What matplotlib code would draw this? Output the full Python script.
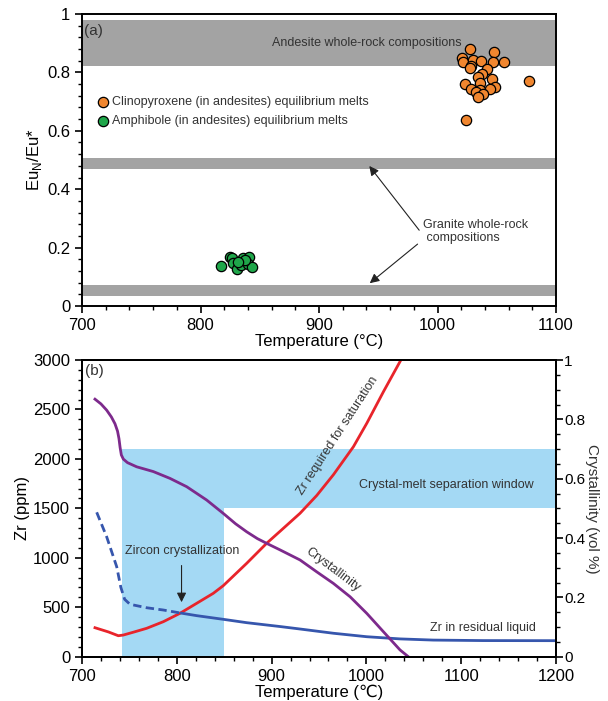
import matplotlib
matplotlib.use("Agg")
import matplotlib.pyplot as plt
from matplotlib.ticker import MultipleLocator

plt.rcParams['font.family'] = ['Liberation Sans', 'DejaVu Sans']

# ---- panel (a) data ----
cpx_T = [1027.7, 1047.4, 1020.4, 1021.5, 1029.7, 1036.5, 1046.6, 1055.9, 1028.0, 1027.4,
         1042.0, 1037.6, 1034.4, 1046.2, 1035.6, 1023.2, 1048.8, 1028.0, 1044.3, 1035.9,
         1032.5, 1038.6, 1034.4, 1077.2, 1023.8]
cpx_eu = [0.880, 0.871, 0.850, 0.836, 0.842, 0.840, 0.835, 0.835, 0.823, 0.814,
          0.811, 0.794, 0.785, 0.776, 0.765, 0.759, 0.750, 0.743, 0.743, 0.741,
          0.732, 0.725, 0.717, 0.771, 0.636]
amp_T = [817.0, 824.9, 826.8, 827.7, 831.1, 833.9, 835.6, 841.2, 840.3, 843.2, 837.6, 831.6]
amp_eu = [0.137, 0.167, 0.163, 0.146, 0.126, 0.140, 0.163, 0.169, 0.144, 0.135, 0.158, 0.151]

andesite_band = (0.823, 0.979)
granite_bands = [(0.470, 0.507), (0.035, 0.072)]

# ---- panel (b) data ----
sat_T = [713.7, 728.0, 738.3, 743.6, 755.0, 768.2, 785.8, 803.4, 821.0, 838.5, 849.0, 873.7,
         894.8, 908.9, 930.0, 947.6, 965.2, 986.3, 1000.4, 1018.0, 1035.4]
sat_zr = [293, 250, 212, 219, 250, 287, 354, 439, 540, 641, 718, 944,
          1147, 1268, 1450, 1630, 1840, 2123, 2360, 2680, 2983]

cry_T = [713.7, 720.0, 726.0, 731.0, 734.8, 737.5, 739.0, 740.2, 741.5, 743.6, 748.0, 757.7,
         775.2, 792.8, 810.4, 831.5, 849.0, 862.0, 873.7, 885.0, 894.8, 908.9, 930.0, 947.6,
         965.2, 982.8, 1000.4, 1018.0, 1035.4, 1044.2]
cry_v = [0.868, 0.852, 0.831, 0.808, 0.785, 0.760, 0.735, 0.705, 0.680, 0.666, 0.654, 0.640,
         0.624, 0.601, 0.573, 0.528, 0.483, 0.448, 0.421, 0.398, 0.382, 0.360, 0.326, 0.286,
         0.247, 0.202, 0.146, 0.084, 0.023, 0.0]

liq_dash_T = [715.5, 726.0, 736.6, 741.0, 745.0, 750.6, 768.2, 785.8, 805.0]
liq_dash_zr = [1460, 1213, 910, 700, 580, 530, 495, 472, 440]
liq_T = [805.0, 821.0, 849.0, 873.7, 908.9, 930.0, 965.2, 1000.4, 1035.4, 1070.6, 1123.0, 1200.0]
liq_zr = [440, 415, 378, 344, 305, 280, 237, 202, 180, 168, 163, 162]

window_T = (742, 850)
window_cry = (0.5, 0.7)
zr_max = 3000

fig = plt.figure(figsize=(6.08, 7.01), dpi=100)

# ================= (a) =================
ax = fig.add_axes([82/608, 1-306/701, 474/608, 292/701])
ax.axhspan(*andesite_band, color='#a3a3a3', lw=0, zorder=0)
for b in granite_bands:
    ax.axhspan(*b, color='#a3a3a3', lw=0, zorder=0)

ax.scatter(cpx_T, cpx_eu, s=55, c='#f0862f', edgecolors='black', linewidths=0.9, zorder=3)
ax.scatter(amp_T, amp_eu, s=55, c='#1fa64a', edgecolors='black', linewidths=0.9, zorder=3)

ax.set_xlim(700, 1100)
ax.set_ylim(0, 1)
ax.xaxis.set_major_locator(MultipleLocator(100))
ax.xaxis.set_minor_locator(MultipleLocator(20))
ax.yaxis.set_minor_locator(MultipleLocator(0.04))
ax.set_yticks([0, 0.2, 0.4, 0.6, 0.8, 1])
ax.set_yticklabels(['0', '0.2', '0.4', '0.6', '0.8', '1'])
ax.tick_params(which='major', direction='out', length=5, width=1.2, labelsize=12)
ax.tick_params(which='minor', direction='out', length=3, width=1)
for sp in ax.spines.values():
    sp.set_linewidth(1.4)
ax.set_xlabel('Temperature (°C)', fontsize=12, labelpad=1)
ax.set_ylabel('Eu$_\\mathregular{N}$/Eu*', fontsize=12, labelpad=2)

ax.text(702, 0.965, '(a)', fontsize=11, color='#333333', va='top')
ax.text(940, 0.902, 'Andesite whole-rock compositions', fontsize=9, color='#333333',
        ha='center', va='center')
ax.scatter([718], [0.698], s=55, c='#f0862f', edgecolors='black', linewidths=0.9)
ax.scatter([718], [0.635], s=55, c='#1fa64a', edgecolors='black', linewidths=0.9)
ax.text(725, 0.698, 'Clinopyroxene (in andesites) equilibrium melts', fontsize=9,
        color='#333333', va='center')
ax.text(725, 0.635, 'Amphibole (in andesites) equilibrium melts', fontsize=9,
        color='#333333', va='center')
ax.text(988, 0.255, 'Granite whole-rock\n compositions', fontsize=9, color='#333333',
        va='center', linespacing=1.2)
arrow = dict(arrowstyle='-|>', color='#222222', lw=0.8, mutation_scale=14)
ax.annotate('', xy=(941, 0.487), xytext=(986, 0.252), arrowprops=arrow)
ax.annotate('', xy=(941, 0.072), xytext=(985, 0.218), arrowprops=arrow)

# ================= (b) =================
bx = fig.add_axes([82/608, 1-656.7/701, 474/608, 296.7/701])
bx2 = bx.twinx()

blue = '#a4d9f4'
bx.fill_between([window_T[0], window_T[1]], 0, window_cry[1]*zr_max, color=blue, lw=0, zorder=0)
bx.fill_between([window_T[0], 1200], window_cry[0]*zr_max, window_cry[1]*zr_max,
                color=blue, lw=0, zorder=0)

bx.plot(sat_T, sat_zr, color='#e8242b', lw=2)
bx.plot(liq_dash_T, liq_dash_zr, color='#3656ad', lw=2, ls=(0, (3, 1.6)))
bx.plot(liq_T, liq_zr, color='#3656ad', lw=2)
bx2.plot(cry_T, cry_v, color='#7d2a8c', lw=2)

bx.set_xlim(700, 1200)
bx.set_ylim(0, zr_max)
bx2.set_ylim(0, 1)
bx.xaxis.set_major_locator(MultipleLocator(100))
bx.xaxis.set_minor_locator(MultipleLocator(20))
bx.yaxis.set_major_locator(MultipleLocator(500))
bx.yaxis.set_minor_locator(MultipleLocator(100))
bx2.set_yticks([0, 0.2, 0.4, 0.6, 0.8, 1])
bx2.set_yticklabels(['0', '0.2', '0.4', '0.6', '0.8', '1'])
bx2.yaxis.set_minor_locator(MultipleLocator(0.05))
for a in (bx, bx2):
    a.tick_params(which='major', direction='out', length=5, width=1.2, labelsize=12)
    a.tick_params(which='minor', direction='out', length=3, width=1)
    for sp in a.spines.values():
        sp.set_linewidth(1.4)
bx2.tick_params(axis='y', which='major', labelsize=11, pad=1)
bx.set_xlabel('Temperature (℃)', fontsize=12, labelpad=1)
bx.set_ylabel('Zr (ppm)', fontsize=12, labelpad=2)
bx2.set_ylabel('Crystallinity (vol %)', fontsize=11, rotation=270, labelpad=10, color='#333333')

bx.text(703, 2960, '(b)', fontsize=11, color='#333333', va='top')
bx.text(970, 2240, 'Zr required for saturation', fontsize=9, color='#333333',
        rotation=57, ha='center', va='center', rotation_mode='anchor')
bx.text(965, 877, 'Crystallinity', fontsize=9, color='#333333',
        rotation=-37, ha='center', va='center', rotation_mode='anchor')
bx.text(1123, 290, 'Zr in residual liquid', fontsize=9, color='#333333',
        ha='center', va='center')
bx.text(1084, 1736, 'Crystal-melt separation window', fontsize=9, color='#333333',
        ha='center', va='center')
bx.text(806, 1069, 'Zircon crystallization', fontsize=9, color='#333333',
        ha='center', va='center')
bx.annotate('', xy=(805, 523), xytext=(805, 950),
            arrowprops=dict(arrowstyle='-|>', color='#222222', lw=0.8, mutation_scale=14))

fig.savefig('out.png', dpi=100)
